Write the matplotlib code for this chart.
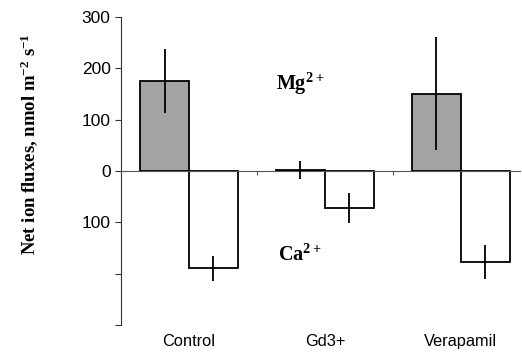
import numpy as np
import matplotlib.pyplot as plt

plt.rcParams["mathtext.fontset"] = "custom"
plt.rcParams["mathtext.rm"] = "Liberation Serif:bold"
plt.rcParams["mathtext.default"] = "rm"

# treatments and fluxes (nmol m-2 s-1), efflux negative
treatments = ["Control", "Gd3+", "Verapamil"]
mg_flux = [175, 2, 150]
mg_err = [62, 18, 110]
ca_flux = [-190, -72, -177]
ca_err = [25, 29, 33]
ytick_vals = [300, 200, 100, 0, -100, -200, -300]
ytick_labels = ["300", "200", "100", "0", "100", "", ""]

fig = plt.figure(figsize=(5.22, 3.59), dpi=100)
ax = fig.add_axes([0.232, 0.095, 0.765, 0.858])

x = np.arange(len(treatments))
w = 0.36
ax.bar(x - w / 2, mg_flux, w, color="#a3a3a3", edgecolor="black", linewidth=1.3, zorder=2)
ax.bar(x + w / 2, ca_flux, w, color="white", edgecolor="black", linewidth=1.3, zorder=2)
ax.errorbar(x - w / 2, mg_flux, yerr=mg_err, fmt="none", ecolor="black", elinewidth=1.3, capsize=0, zorder=3)
ax.errorbar(x + w / 2, ca_flux, yerr=ca_err, fmt="none", ecolor="black", elinewidth=1.3, capsize=0, zorder=3)

ax.set_xlim(-0.5, 2.44)
ax.set_ylim(-300, 300)
ax.set_yticks(ytick_vals)
ax.set_yticklabels(ytick_labels, fontfamily="Liberation Sans", fontsize=12.5)

# zero line acts as the x axis
for s in ["top", "right"]:
    ax.spines[s].set_visible(False)
ax.spines["bottom"].set_position(("data", 0))
ax.spines["bottom"].set_color("#555555")
ax.spines["left"].set_color("#333333")
ax.set_xticks([0.5, 1.5])
ax.set_xticklabels([])
ax.tick_params(axis="x", length=3, color="#555555")
ax.tick_params(axis="y", length=4, color="#333333")

for xi, name in zip(x, treatments):
    ax.text(xi, -0.055, name, transform=ax.get_xaxis_transform(), ha="center", va="center",
            fontfamily="Liberation Sans", fontsize=11.8)

ax.text(0.82, 170, "Mg$^{2+}$", ha="center", va="center", fontfamily="Liberation Serif",
        fontweight="bold", fontsize=14.5)
ax.text(0.82, -165, "Ca$^{2+}$", ha="center", va="center", fontfamily="Liberation Serif",
        fontweight="bold", fontsize=14.5)

fig.text(0.056, 0.60, "Net ion fluxes, nmol m$^{-2}$ s$^{-1}$", rotation=90,
         ha="center", va="center", fontfamily="Liberation Serif", fontweight="bold", fontsize=13.5)

fig.savefig("out.png", dpi=100)
